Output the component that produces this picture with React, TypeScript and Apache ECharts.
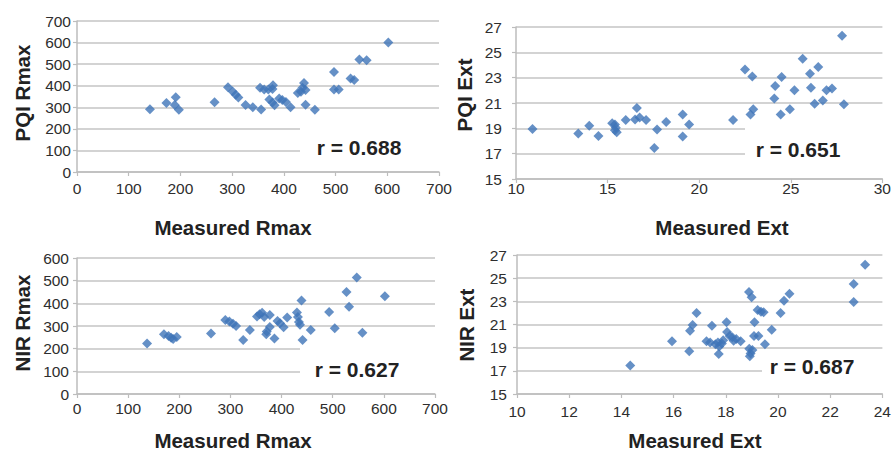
import React, { useEffect, useRef } from 'react';
import * as echarts from 'echarts';

// Panel A: Measured Rmax (x) vs PQI Rmax (y)
const pqiRmax: number[][] = [
  [141, 291], [173, 320], [191, 347], [189, 311], [197, 288], [266, 323],
  [292, 393], [301, 373], [307, 358], [312, 345], [326, 311], [340, 300],
  [356, 290], [354, 390], [362, 383], [370, 383], [378, 385], [379, 402],
  [372, 336], [378, 322], [382, 310], [391, 341], [397, 334], [404, 324],
  [413, 300], [427, 366], [433, 372], [436, 390], [439, 413], [442, 380],
  [442, 312], [460, 288], [497, 463], [497, 382], [506, 382], [529, 434],
  [536, 427], [546, 521], [560, 518], [602, 600],
];

// Panel B: Measured Ext (x) vs PQI Ext (y)
const pqiExt: number[][] = [
  [10.9, 18.95], [13.4, 18.6], [14.0, 19.2], [14.5, 18.4], [15.25, 19.4],
  [15.4, 19.3], [15.45, 19.05], [15.4, 18.85], [15.5, 18.7], [15.99, 19.65],
  [16.5, 19.7], [16.6, 20.6], [16.75, 19.85], [17.1, 19.65], [17.55, 17.45],
  [17.7, 18.9], [18.2, 19.5], [19.1, 20.1], [19.1, 18.35], [19.45, 19.3],
  [21.85, 19.65], [22.5, 23.65], [22.9, 23.1], [22.8, 20.1], [22.95, 20.5],
  [24.1, 21.35], [24.15, 22.35], [24.5, 23.05], [24.45, 20.1], [24.95, 20.5],
  [25.2, 22.0], [25.65, 24.5], [26.05, 23.3], [26.1, 22.2], [26.3, 20.95],
  [26.5, 23.85], [26.75, 21.2], [26.95, 22.0], [27.25, 22.15], [27.8, 26.3],
  [27.9, 20.9],
];

// Panel C: Measured Rmax (x) vs NIR Rmax (y)
const nirRmax: number[][] = [
  [137, 223], [170, 264], [179, 256], [184, 248], [188, 243], [195, 252],
  [262, 267], [290, 326], [298, 320], [305, 310], [311, 300], [325, 238],
  [338, 282], [352, 342], [357, 352], [362, 358], [366, 340], [370, 264],
  [371, 276], [377, 296], [377, 348], [386, 245], [392, 322], [397, 312],
  [404, 295], [411, 338], [430, 360], [432, 340], [434, 318], [436, 305],
  [439, 413], [441, 238], [457, 282], [493, 362], [504, 290], [527, 450],
  [532, 385], [547, 514], [558, 270], [602, 431],
];

// Panel D: Measured Ext (x) vs NIR Ext (y)
const nirExt: number[][] = [
  [14.34, 17.45], [15.94, 19.55], [16.6, 18.7], [16.63, 20.45], [16.73, 20.95],
  [16.88, 22.0], [17.26, 19.55], [17.47, 20.9], [17.4, 19.45], [17.6, 19.3],
  [17.7, 19.45], [17.75, 19.1], [17.73, 18.45], [17.85, 19.35], [17.9, 19.65],
  [18.03, 21.2], [18.05, 20.35], [18.15, 20.0], [18.25, 19.9], [18.3, 19.6],
  [18.4, 19.75], [18.57, 19.55], [18.89, 23.8], [18.99, 23.35], [18.9, 18.9],
  [18.95, 18.5], [18.92, 18.25], [19.02, 18.8], [19.08, 20.0], [19.1, 21.2],
  [19.25, 20.0], [19.22, 22.25], [19.35, 22.1], [19.45, 22.05], [19.5, 19.3],
  [19.76, 20.55], [20.1, 22.0], [20.23, 23.05], [20.44, 23.65], [22.9, 24.5],
  [22.9, 22.95], [23.34, 26.15],
];

const rmaxTicks = [0, 100, 200, 300, 400, 500, 600, 700];
const nirRmaxYTicks = [0, 100, 200, 300, 400, 500, 600];
const extYTicks = [15, 17, 19, 21, 23, 25, 27];
const pqiExtXTicks = [10, 15, 20, 25, 30];
const nirExtXTicks = [10, 12, 14, 16, 18, 20, 22, 24];

const correlations = ['r = 0.688', 'r = 0.651', 'r = 0.627', 'r = 0.687'];
const yTitles = ['PQI Rmax', 'PQI Ext', 'NIR Rmax', 'NIR Ext'];
const xTitles = ['Measured Rmax', 'Measured Ext', 'Measured Rmax', 'Measured Ext'];

const FONT = '"Liberation Sans", Arial, Helvetica, sans-serif';
const BLUE = '#3f74b8';
const AXIS_GREY = '#bdbdbd';
const GRID_GREY = '#c4c4c4';

function xAxisOf(gridIndex: number, ticks: number[], margin: number) {
  return {
    type: 'value',
    gridIndex,
    min: ticks[0],
    max: ticks[ticks.length - 1],
    axisLine: { show: true, lineStyle: { color: AXIS_GREY, width: 1.5 } },
    axisTick: { show: true, length: 4, customValues: ticks, lineStyle: { color: AXIS_GREY, width: 1.2 } },
    axisLabel: {
      customValues: ticks, margin, fontSize: 15.5, color: '#2e2e2e', fontFamily: FONT,
      showMinLabel: true, showMaxLabel: true, hideOverlap: false,
    },
    splitLine: { show: false },
  };
}

function yAxisOf(gridIndex: number, ticks: number[], margin: number) {
  return {
    type: 'value',
    gridIndex,
    min: ticks[0],
    max: ticks[ticks.length - 1],
    axisLine: { show: true, lineStyle: { color: AXIS_GREY, width: 1.5 } },
    axisTick: { show: true, length: 4, customValues: ticks, lineStyle: { color: AXIS_GREY, width: 1.2 } },
    axisLabel: {
      customValues: ticks, margin, fontSize: 15.5, color: '#2e2e2e', fontFamily: FONT,
      showMinLabel: true, showMaxLabel: true, hideOverlap: false,
    },
    splitLine: { show: true, lineStyle: { color: GRID_GREY, width: 1.5 } },
  };
}

export default function App() {
  const ref = useRef<HTMLDivElement>(null);

  useEffect(() => {
    document.body.style.margin = '0';
    if (!ref.current) return;
    const chart = echarts.init(ref.current, undefined, { renderer: 'svg' });

    const datasets = [pqiRmax, pqiExt, nirRmax, nirExt];

    const yTitlePos = [[22, 93], [464, 95], [22, 323], [466, 325]];
    const xTitlePos = [[233, 227], [722, 227], [233, 440], [695, 440]];
    const rPos = [[359, 147], [798, 149], [357, 369], [812, 366]];
    const whiteBoxes = [
      [300, 112, 140, 56],
      [745, 104, 140, 71],
      [300, 333, 136, 57],
      [762, 355, 124, 35],
    ];

    const graphic: any[] = [];
    whiteBoxes.forEach((b) => {
      graphic.push({
        type: 'rect', z: 1,
        shape: { x: b[0], y: b[1], width: b[2], height: b[3] },
        style: { fill: '#ffffff' },
        silent: true,
      });
    });
    yTitles.forEach((t, i) => {
      graphic.push({
        type: 'text', z: 10,
        x: yTitlePos[i][0], y: yTitlePos[i][1], rotation: Math.PI / 2,
        style: {
          text: t, align: 'center', verticalAlign: 'middle', lineHeight: 20,
          font: `bold 20.5px ${FONT}`, fill: '#222',
        },
      });
    });
    xTitles.forEach((t, i) => {
      graphic.push({
        type: 'text', z: 10,
        x: xTitlePos[i][0], y: xTitlePos[i][1],
        style: {
          text: t, align: 'center', verticalAlign: 'middle', lineHeight: 20,
          font: `bold 20.5px ${FONT}`, fill: '#222',
        },
      });
    });
    correlations.forEach((t, i) => {
      graphic.push({
        type: 'text', z: 10,
        x: rPos[i][0], y: rPos[i][1],
        style: {
          text: t, align: 'center', verticalAlign: 'middle', lineHeight: 21,
          font: `bold 21px ${FONT}`, fill: '#222',
        },
      });
    });

    chart.setOption({
      animation: false,
      backgroundColor: '#ffffff',
      grid: [
        { left: 77, top: 21, width: 362, height: 151 },
        { left: 516, top: 27, width: 367, height: 152 },
        { left: 77, top: 258, width: 358, height: 136 },
        { left: 517, top: 255, width: 367, height: 139 },
      ],
      xAxis: [
        xAxisOf(0, rmaxTicks, 8),
        xAxisOf(1, pqiExtXTicks, 1),
        xAxisOf(2, rmaxTicks, 6),
        xAxisOf(3, nirExtXTicks, 9),
      ],
      yAxis: [
        yAxisOf(0, rmaxTicks, 6),
        yAxisOf(1, extYTicks, 14),
        yAxisOf(2, nirRmaxYTicks, 8),
        yAxisOf(3, extYTicks, 10),
      ],
      series: datasets.map((d, i) => ({
        type: 'scatter',
        xAxisIndex: i,
        yAxisIndex: i,
        data: d,
        symbol: 'diamond',
        symbolSize: 10,
        itemStyle: { color: BLUE },
        z: 3,
      })),
      graphic,
    });

    return () => chart.dispose();
  }, []);

  return <div ref={ref} style={{ width: 894, height: 451 }} />;
}
